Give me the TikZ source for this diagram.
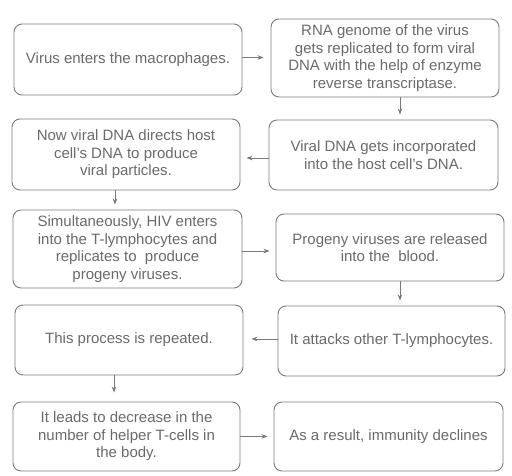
\documentclass[tikz,border=0pt]{standalone}
\usepackage{fontspec}
\setmainfont{Liberation Sans}
\usetikzlibrary{arrows.meta}
\definecolor{txt}{HTML}{6A6A6A}
\definecolor{edge}{HTML}{7A7A7A}
\tikzset{
  box/.style={draw=edge, line width=0.9pt, rounded corners=8pt, align=center,
    text=txt, font=\fontsize{15}{17.5}\selectfont, inner sep=0pt},
  arr/.style={draw=edge, line width=0.8pt, -{Stealth[length=6pt,width=4.5pt]}}
}
\begin{document}
\begin{tikzpicture}[x=1pt,y=-1pt]
\useasboundingbox[fill=white] (0,0) rectangle (512,476);
\node[box, minimum width=228pt, minimum height=71pt] (n1) at (128,59.5) {Virus enters the macrophages.};
\node[box, minimum width=228pt, minimum height=78pt] (n2) at (385,58) {RNA genome of the virus\\gets replicated to form viral\\DNA with the help of enzyme\\reverse transcriptase.};
\node[box, minimum width=229pt, minimum height=70pt] (n3) at (383.5,155) {Viral DNA gets incorporated\\into the host cell’s DNA.};
\node[box, minimum width=228pt, minimum height=71pt] (n4) at (126,154.5) {Now viral DNA directs host\\cell’s DNA to produce\\viral particles.};
\node[box, minimum width=229pt, minimum height=78pt] (n5) at (127.5,249) {Simultaneously, HIV enters\\into the T-lymphocytes and\\replicates to\ \ produce\\progeny viruses.};
\node[box, minimum width=228pt, minimum height=67pt] (n6) at (390,247.5) {Progeny viruses are released\\into the\ \ blood.};
\node[box, minimum width=227pt, minimum height=70pt] (n7) at (391.5,341) {It attacks other T-lymphocytes.};
\node[box, minimum width=228pt, minimum height=70pt] (n8) at (129,340) {This process is repeated.};
\node[box, minimum width=227pt, minimum height=69pt] (n9) at (126.5,436.5) {It leads to decrease in the\\number of helper T-cells in\\the body.};
\node[box, minimum width=229pt, minimum height=69pt] (n10) at (388.5,436.5) {As a result, immunity declines};

\draw[arr, shorten >=7pt] ([yshift=2pt]n1.east) -- ([yshift=2pt]n1.east -| n2.west);
\draw[arr, shorten >=5pt] ([xshift=15pt]n2.south) -- ([xshift=15pt]n2.south |- n3.north);
\draw[arr, shorten >=6pt] ([yshift=-3pt]n3.west) -- ([yshift=-3pt]n3.west -| n4.east);
\draw[arr, shorten >=5pt] ([xshift=-11pt]n4.south) -- ([xshift=-11pt]n4.south |- n5.north);
\draw[arr, shorten >=6pt] ([yshift=-2pt]n5.east) -- ([yshift=-2pt]n5.east -| n6.west);
\draw[arr, shorten >=5pt] ([xshift=10pt]n6.south) -- ([xshift=10pt]n6.south |- n7.north);
\draw[arr, shorten >=8pt] ([yshift=2pt]n7.west) -- ([yshift=2pt]n7.west -| n8.east);
\draw[arr, shorten >=9pt] ([xshift=-15pt]n8.south) -- ([xshift=-15pt]n8.south |- n9.north);
\draw[arr, shorten >=6pt] (n9.east) -- (n9.east -| n10.west);
\end{tikzpicture}
\end{document}
